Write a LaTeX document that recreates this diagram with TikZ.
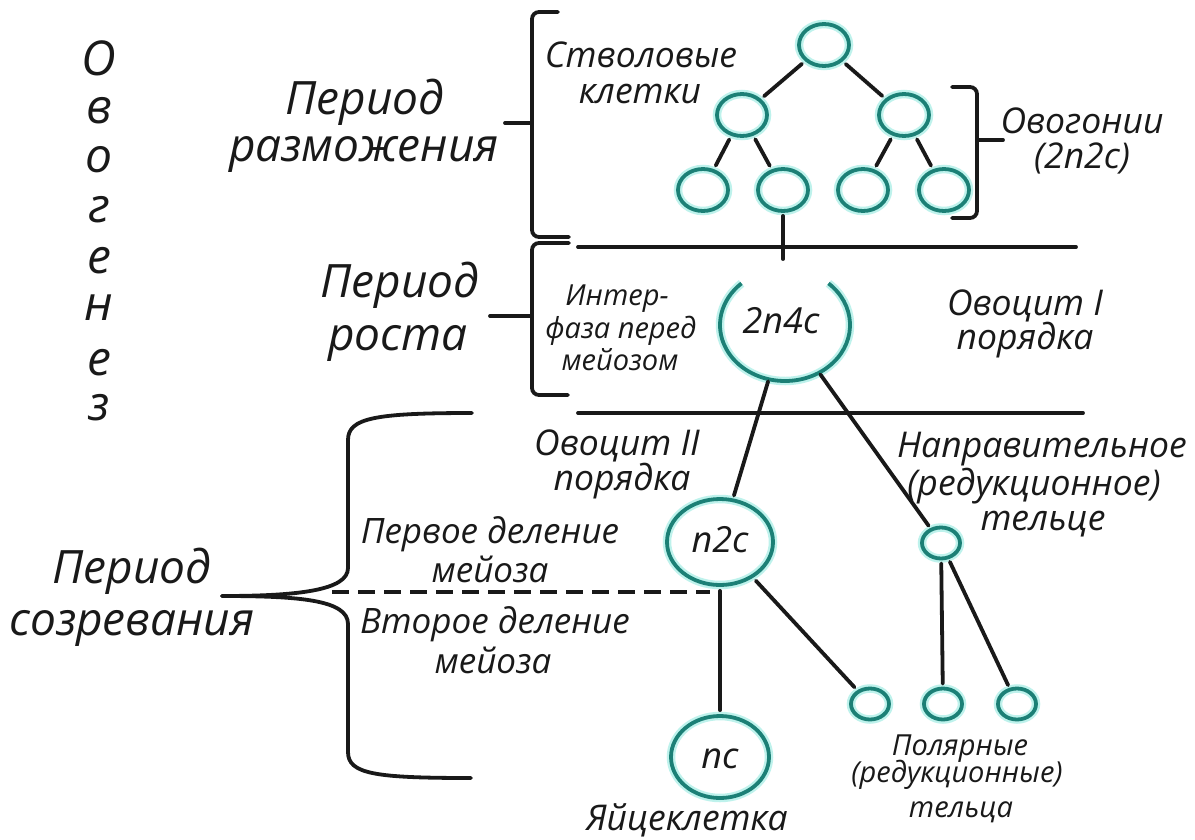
\documentclass[tikz,border=0pt]{standalone}
\usepackage{fontspec}
\setmainfont{Open Sans}
\usetikzlibrary{shapes.geometric}
\definecolor{cellc}{RGB}{28,128,118}
\definecolor{glowc}{RGB}{190,242,236}
\definecolor{ink}{RGB}{25,25,25}
\begin{document}
\begin{tikzpicture}[x=1pt,y=-1pt,
  cell/.style={ellipse, draw=cellc, line width=3.8pt, inner sep=0pt, preaction={draw=glowc, line width=8.5pt}},
  tree/.style={cell, minimum width=50pt, minimum height=42pt},
  tiny/.style={cell, minimum width=38pt, minimum height=31pt},
  wire/.style={draw=ink, line width=3.8pt, line cap=round},
  bracket/.style={draw=ink, line width=3.8pt, line cap=round, rounded corners=7pt},
  letter/.style={font=\itshape\fontsize{48}{50}\selectfont, text=ink, anchor=base, inner sep=0pt},
  big/.style={font=\itshape\fontsize{46}{50}\selectfont, text=ink, anchor=base, inner sep=0pt},
  mid/.style={font=\itshape\fontsize{35.5}{38}\selectfont, text=ink, anchor=base, inner sep=0pt},
  mids/.style={font=\itshape\fontsize{35}{38}\selectfont, text=ink, anchor=base, inner sep=0pt},
  sml/.style={font=\itshape\fontsize{29}{32}\selectfont, text=ink, anchor=base, inner sep=0pt},
  lab/.style={font=\itshape\fontsize{36}{38}\selectfont, text=ink, anchor=base, inner sep=0pt},
]
\fill[white] (0,0) rectangle (1195,839);
\useasboundingbox (0,0) rectangle (1195,839);

% vertical word
\node[letter] (g1) at (99,75) {О};
\node[letter] (g2) at (99,123) {в};
\node[letter] (g3) at (99,172) {о};
\node[letter] (g4) at (99,222) {г};
\node[letter] (g5) at (99,273) {е};
\node[letter] (g6) at (99,320) {н};
\node[letter] (g7) at (99,375) {е};
\node[letter] (g8) at (99,420) {з};

% period labels
\node[big] (p1a) at (365,114) {Период};
\node[big] (p1b) at (364,161) {разможения};
\node[big] (p2a) at (400,297) {Период};
\node[big] (p2b) at (398,350) {роста};
\node[big] (p3a) at (132,583) {Период};
\node[big] (p3b) at (132,635) {созревания};

% brackets
\draw[bracket] (558,12) -- (532,12) -- (532,237) -- (569,237);
\draw[wire] (505,123) -- (532,123);
\draw[bracket] (569,243) -- (532,243) -- (532,395) -- (568,395);
\draw[wire] (490,316) -- (532,316);
\draw[bracket] (952,87) -- (977,87) -- (977,218) -- (952,218);
\draw[wire] (977,140) -- (1003,140);
\draw[wire] (472,413) .. controls (375,413) and (348,418) .. (348,440) -- (348,568)
  .. controls (348,590) and (300,596) .. (222,596);
\draw[wire] (222,596) .. controls (300,596) and (348,600) .. (348,624) -- (348,752)
  .. controls (348,774) and (375,778) .. (471,778);

% horizontal separators
\coordinate (l1a) at (578,247); \coordinate (l1b) at (1076,247);
\coordinate (l2a) at (578,413); \coordinate (l2b) at (1083,413);
\draw[wire] (l1a) -- (l1b);
\draw[wire] (l2a) -- (l2b);
\coordinate (d1) at (332,592); \coordinate (d2) at (710,592);
\draw[draw=ink, line width=3.2pt, dash pattern=on 17pt off 9pt] (d1) -- (d2);

% tree of stem cells
\node[tree] (c0) at (824,45) {};
\node[tree] (c1) at (742,115) {};
\node[tree] (c2) at (904,115) {};
\node[tree] (c3) at (703,190) {};
\node[tree] (c4) at (783,190) {};
\node[tree] (c5) at (863,190) {};
\node[tree] (c6) at (944,190) {};
\draw[wire, shorten <=4pt, shorten >=4pt] (c0) -- (c1);
\draw[wire, shorten <=4pt, shorten >=4pt] (c0) -- (c2);
\draw[wire, shorten <=4pt, shorten >=4pt] (c1) -- (c3);
\draw[wire, shorten <=4pt, shorten >=4pt] (c1) -- (c4);
\draw[wire, shorten <=4pt, shorten >=4pt] (c2) -- (c5);
\draw[wire, shorten <=4pt, shorten >=4pt] (c2) -- (c6);
\coordinate (j1) at (783,259);
\draw[wire, shorten <=3pt] (c4) -- (j1);

% oocyte I (open ring)
\node[ellipse, minimum width=130pt, minimum height=112pt, inner sep=0pt] (big) at (785,325) {};
\draw[draw=glowc, line width=8.5pt] (big.center) ++(-48:65 and 56) arc[start angle=-48, end angle=228, x radius=65, y radius=56];
\draw[draw=cellc, line width=3.8pt] (big.center) ++(-48:65 and 56) arc[start angle=-48, end angle=228, x radius=65, y radius=56];
\node[lab] (t2n4c) at (781,333) {2n4c};

% oocyte II, polar bodies, egg
\node[cell, minimum width=106pt, minimum height=86pt] (n2c) at (720,542) {};
\node[lab] (tn2c) at (720,552) {n2c};
\node[tiny] (s0) at (941,543) {};
\node[cell, minimum width=98pt, minimum height=82pt] (nc) at (720,757) {};
\node[lab] (tnc) at (720,768) {nc};
\node[tiny] (q1) at (870,704) {};
\node[tiny] (q2) at (943,704) {};
\node[tiny] (q3) at (1017,704) {};
\draw[wire, shorten <=2pt, shorten >=3pt] (big) -- (n2c);
\draw[wire, shorten <=2pt, shorten >=3pt] (big) -- (s0);
\draw[wire, shorten <=4pt, shorten >=4pt] (n2c) -- (nc);
\draw[wire, shorten <=4pt, shorten >=4pt] (n2c) -- (q1);
\draw[wire, shorten <=3pt, shorten >=3pt] (s0) -- (q2);
\draw[wire, shorten <=3pt, shorten >=3pt] (s0) -- (q3);

% labels
\node[mid] (sv1) at (641,67) {Стволовые};
\node[mid] (sv2) at (640,103) {клетки};
\node[mid] (og1) at (1082,133) {Овогонии};
\node[mid] (og2) at (1082,168) {(2n2c)};
\node[sml] (in1) at (617,305) {Интер-};
\node[sml] (in2) at (621,338) {фаза перед};
\node[sml] (in3) at (620,370) {мейозом};
\node[mid] (o1a) at (1025,315) {Овоцит I};
\node[mid] (o1b) at (1025,349) {порядка};
\node[mid] (o2a) at (617,455) {Овоцит II};
\node[mid] (o2b) at (622,490) {порядка};
\node[mid] (na1) at (1042,457) {Направительное};
\node[mid] (na2) at (1034,495) {(редукционное)};
\node[mid] (na3) at (1043,530) {тельце};
\node[mids] (m1a) at (490,543) {Первое деление};
\node[mids] (m1b) at (490,582) {мейоза};
\node[mids] (m2a) at (495,633) {Второе деление};
\node[mids] (m2b) at (493,673) {мейоза};
\node[mid] (egg) at (687,830) {Яйцеклетка};
\node[sml] (pb1) at (960,755) {Полярные};
\node[sml] (pb2) at (957,782) {(редукционные)};
\node[sml] (pb3) at (961,817) {тельца};
\end{tikzpicture}
\end{document}
